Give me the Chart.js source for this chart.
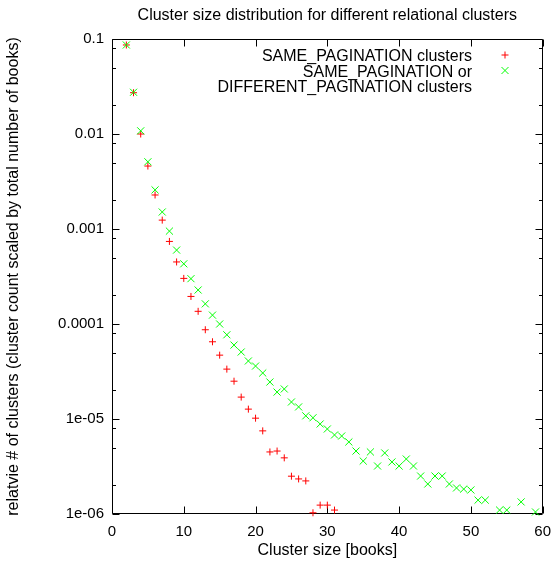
<!DOCTYPE html>
<html><head><meta charset="utf-8">
<script src="https://cdn.jsdelivr.net/npm/chart.js@4/dist/chart.umd.min.js"></script>
<style>html,body{margin:0;padding:0;background:#fff}</style>
</head><body>
<canvas id="c" width="560" height="563"></canvas>
<script>
const chartTitle = 'Cluster size distribution for different relational clusters';
const xAxisTitle = 'Cluster size [books]';
const yAxisTitle = 'relatvie # of clusters (cluster count scaled by total number of books)';
const seriesLabels = ['SAME_PAGINATION clusters', 'SAME_PAGINATION or\nDIFFERENT_PAGINATION clusters'];

const samePagSizes = [2,3,4,5,6,7,8,9,10,11,12,13,14,15,16,17,18,19,20,21,22,23,24,25,26,27,28,29,30,31];
const samePagValues = [0.0865,0.0272,0.0100,0.0046,0.00228,0.00124,0.00074,0.00045,0.000302,0.000195,
  0.000136,8.7e-5,6.5e-5,4.7e-5,3.35e-5,2.5e-5,1.7e-5,1.27e-5,1.02e-5,7.5e-6,
  4.5e-6,4.6e-6,3.9e-6,2.5e-6,2.34e-6,2.23e-6,1.03e-6,1.24e-6,1.24e-6,1.1e-6];

const anyPagSizes = [2,3,4,5,6,7,8,9,10,11,12,13,14,15,16,17,18,19,20,21,22,23,24,25,26,27,28,29,30,31,
  32,33,34,35,36,37,38,39,40,41,42,43,44,45,46,47,48,49,50,51,52,54,55,57,59];
const anyPagValues = [0.0865,0.0275,0.0108,0.0051,0.00258,0.00151,0.00095,0.0006,0.00043,0.0003,
  0.000228,0.000163,0.000124,0.0001,7.7e-5,6.0e-5,5.07e-5,4.08e-5,3.61e-5,3.05e-5,
  2.45e-5,1.92e-5,2.07e-5,1.51e-5,1.34e-5,1.08e-5,1.03e-5,8.86e-6,7.85e-6,6.79e-6,
  6.62e-6,5.73e-6,4.6e-6,3.61e-6,4.5e-6,3.2e-6,4.39e-6,3.53e-6,3.2e-6,3.79e-6,
  3.2e-6,2.51e-6,2.07e-6,2.51e-6,2.51e-6,2.07e-6,1.88e-6,1.83e-6,1.79e-6,1.4e-6,
  1.4e-6,1.1e-6,1.1e-6,1.34e-6,1.05e-6];

const xTickValues = [0,10,20,30,40,50,60];
const yTickValues = [1e-6,1e-5,1e-4,1e-3,1e-2,1e-1];
const yTickLabels = ['1e-06','1e-05','0.0001','0.001','0.01','0.1'];
const yMinorFactors = [2,5,8];

const FONT = 'Liberation Sans, Arial, Helvetica, sans-serif';

function toPoints(xs, ys){ return xs.map((x,i)=>({x:x, y:ys[i]})); }

const framePlugin = {
  id: 'frame',
  beforeDatasetsDraw(chart){
    const {ctx, chartArea:a, scales:{x, y}} = chart;
    ctx.save();
    ctx.strokeStyle = '#000';
    ctx.lineWidth = 1;
    const L = Math.round(a.left)+0.5, R = Math.round(a.right)-0.5;
    const T = Math.round(a.top)+0.5, B = Math.round(a.bottom)-0.5;
    ctx.beginPath();
    ctx.rect(L, T, R-L, B-T);
    ctx.stroke();
    ctx.beginPath();
    xTickValues.forEach(v=>{
      const px = Math.round(x.getPixelForValue(v))+0.5;
      ctx.moveTo(px, B); ctx.lineTo(px, B-7);
      ctx.moveTo(px, T); ctx.lineTo(px, T+7);
    });
    yTickValues.forEach(v=>{
      const py = Math.round(y.getPixelForValue(v))+0.5;
      ctx.moveTo(L, py); ctx.lineTo(L+7, py);
      ctx.moveTo(R, py); ctx.lineTo(R-7, py);
      if (v < 0.1) {
        yMinorFactors.forEach(f=>{
          const q = Math.round(y.getPixelForValue(v*f))+0.5;
          ctx.moveTo(L, q); ctx.lineTo(L+3.5, q);
          ctx.moveTo(R, q); ctx.lineTo(R-3.5, q);
        });
      }
    });
    ctx.stroke();
    // title centred on plot area
    ctx.fillStyle = '#000';
    ctx.font = '16px ' + FONT;
    ctx.textAlign = 'center';
    ctx.textBaseline = 'alphabetic';
    ctx.fillText(chartTitle, (a.left + a.right)/2, 20);
    ctx.restore();
  },
  afterDatasetsDraw(chart){
    const {ctx} = chart;
    ctx.save();
    ctx.fillStyle = '#000';
    ctx.font = '16px ' + FONT;
    ctx.textAlign = 'right';
    ctx.textBaseline = 'alphabetic';
    let line = 0;
    const textRight = 472, markX = 505, base0 = 61, lh = 15.5;
    chart.data.datasets.forEach(ds=>{
      const parts = ds.label.split('\n');
      const markY = base0 + line*lh - 6;
      ctx.strokeStyle = ds.borderColor;
      ctx.lineWidth = 1;
      ctx.beginPath();
      if (ds.pointStyle === 'cross') {
        ctx.moveTo(markX-3.5, markY); ctx.lineTo(markX+3.5, markY);
        ctx.moveTo(markX, markY-3.5); ctx.lineTo(markX, markY+3.5);
      } else {
        ctx.moveTo(markX-3.5, markY-3.5); ctx.lineTo(markX+3.5, markY+3.5);
        ctx.moveTo(markX-3.5, markY+3.5); ctx.lineTo(markX+3.5, markY-3.5);
      }
      ctx.stroke();
      parts.forEach(p=>{
        ctx.fillText(p, textRight, base0 + line*lh);
        line++;
      });
    });
    ctx.restore();
  }
};

new Chart(document.getElementById('c'), {
  type: 'scatter',
  data: {
    datasets: [
      { label: seriesLabels[0], data: toPoints(samePagSizes, samePagValues),
        pointStyle: 'cross', pointRadius: 3.5, pointBorderWidth: 1,
        borderColor: '#ff0000', backgroundColor: '#ff0000', order: 2, clip: false },
      { label: seriesLabels[1], data: toPoints(anyPagSizes, anyPagValues),
        pointStyle: 'crossRot', pointRadius: 5, pointBorderWidth: 1,
        borderColor: '#00ff00', backgroundColor: '#00ff00', order: 1, clip: false }
    ]
  },
  options: {
    responsive: false,
    animation: false,
    devicePixelRatio: 1,
    events: [],
    layout: { padding: { top: 39, right: 14, bottom: 0, left: 0 } },
    plugins: { legend: { display: false }, tooltip: { enabled: false }, title: { display: false } },
    scales: {
      x: {
        type: 'linear', min: 0, max: 60,
        afterBuildTicks: s => { s.ticks = xTickValues.map(v=>({value:v})); },
        afterFit: s => { s.height = 49; },
        grid: { display: false, drawTicks: false },
        border: { display: false },
        ticks: { color: '#000', font: { family: FONT, size: 15 }, padding: 9, maxRotation: 0, autoSkip: false },
        title: { display: true, text: xAxisTitle, color: '#000', font: { family: FONT, size: 16 }, padding: { top: 0, bottom: 3 } }
      },
      y: {
        type: 'logarithmic', min: 1e-6, max: 0.1,
        afterBuildTicks: s => { s.ticks = yTickValues.map(v=>({value:v})); },
        afterFit: s => { s.width = 112; },
        grid: { display: false, drawTicks: false },
        border: { display: false },
        ticks: { color: '#000', font: { family: FONT, size: 15 }, padding: 8, autoSkip: false,
          callback: (v, i) => yTickLabels[i] },
        title: { display: true, text: yAxisTitle, color: '#000', font: { family: FONT, size: 16 }, padding: { top: 4, bottom: 0 } }
      }
    }
  },
  plugins: [framePlugin]
});
</script>
</body></html>
